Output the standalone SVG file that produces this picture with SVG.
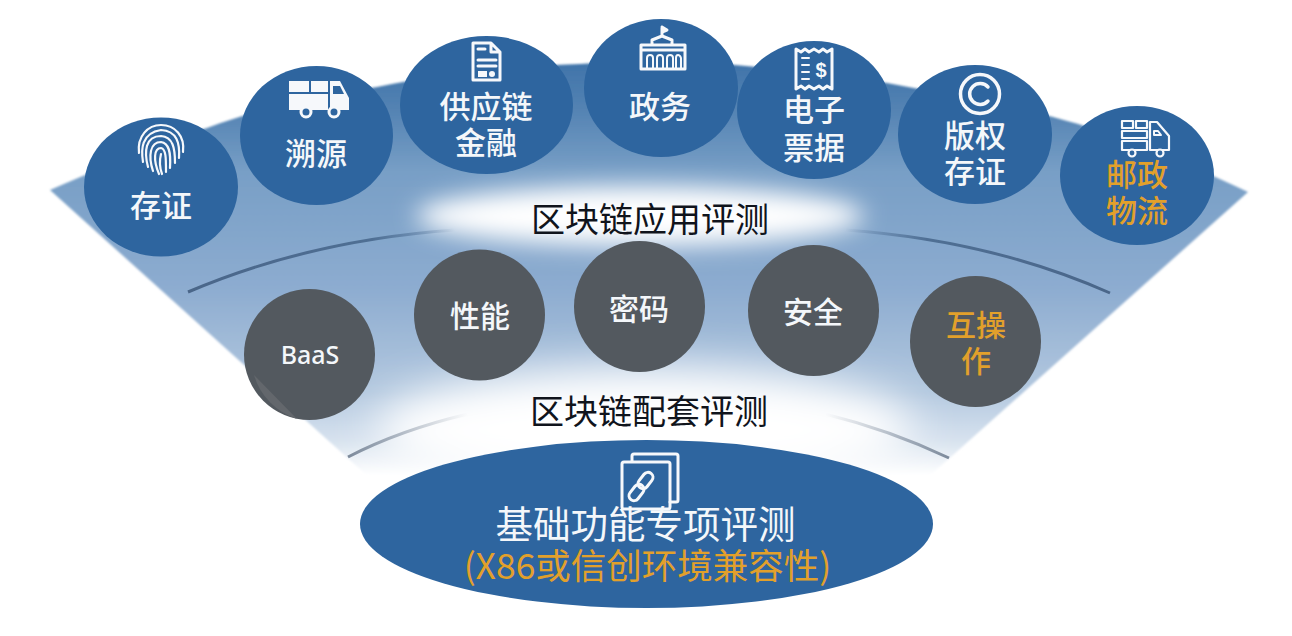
<svg xmlns="http://www.w3.org/2000/svg" width="1292" height="636" viewBox="0 0 1292 636">
<defs>
<linearGradient id="fan" gradientUnits="userSpaceOnUse" x1="0" y1="60" x2="0" y2="475">
<stop offset="0" stop-color="#3f73a9"/><stop offset="0.12" stop-color="#5483b3"/><stop offset="0.27" stop-color="#789fc6"/><stop offset="0.55" stop-color="#8dacd0"/><stop offset="0.8" stop-color="#b3c8df"/><stop offset="0.92" stop-color="#d8e3ef"/><stop offset="1" stop-color="#fff"/>
</linearGradient>
<filter id="b0" x="-10%" y="-10%" width="120%" height="120%"><feGaussianBlur stdDeviation="1.2"/></filter>
<filter id="b1" x="-30%" y="-100%" width="160%" height="300%"><feGaussianBlur stdDeviation="12"/></filter>
<filter id="b2" x="-30%" y="-100%" width="160%" height="300%"><feGaussianBlur stdDeviation="22"/></filter>
<linearGradient id="al" gradientUnits="userSpaceOnUse" x1="188" y1="292" x2="455" y2="230"><stop offset="0" stop-color="#4a6689"/><stop offset="0.7" stop-color="#4f6f94"/><stop offset="1" stop-color="#4f6f94" stop-opacity="0"/></linearGradient>
<linearGradient id="ar" gradientUnits="userSpaceOnUse" x1="1110" y1="293" x2="845" y2="230"><stop offset="0" stop-color="#4a6689"/><stop offset="0.7" stop-color="#4f6f94"/><stop offset="1" stop-color="#4f6f94" stop-opacity="0"/></linearGradient>
<linearGradient id="bl" gradientUnits="userSpaceOnUse" x1="348" y1="457" x2="468" y2="415"><stop offset="0" stop-color="#7d8a9b"/><stop offset="1" stop-color="#7d8a9b" stop-opacity="0"/></linearGradient>
<linearGradient id="br" gradientUnits="userSpaceOnUse" x1="949" y1="458" x2="825" y2="415"><stop offset="0" stop-color="#7d8a9b"/><stop offset="1" stop-color="#7d8a9b" stop-opacity="0"/></linearGradient>
</defs>
<style>
text{font-family:"Noto Sans CJK SC","Liberation Sans",sans-serif;text-anchor:middle}
.b{fill:#2e659f}.g{fill:#53595f}
.t{font-size:31px;fill:#f4f7fa;font-weight:500}
.h{font-size:34px;fill:#10141c}
.i{fill:none;stroke:#f6f8fb;stroke-width:3;stroke-linecap:round;stroke-linejoin:round}
.f{fill:#f6f8fb}
</style>
<rect width="1292" height="636" fill="#fff"/>
<g id="background">
<path filter="url(#b0)" d="M50 190C120 160 165 140 207 128C260 108 320 96 377 87C440 74 510 66 580 64C640 60 690 60 735 65C790 70 840 75 887 83C950 95 1000 103 1053 117C1120 135 1170 155 1248 192L925 480H372Z" fill="url(#fan)"/>
<ellipse cx="645" cy="430" rx="270" ry="62" fill="#fff" filter="url(#b2)"/>
<ellipse cx="640" cy="216" rx="224" ry="30" fill="#fff" filter="url(#b1)"/>
</g>
<g id="connectors" fill="none">
<path d="M188 292Q310 240 455 230" stroke="url(#al)" stroke-width="3"/>
<path d="M1110 293Q990 240 845 230" stroke="url(#ar)" stroke-width="3"/>
<path d="M348 457Q400 430 468 414" stroke="url(#bl)" stroke-width="3"/>
<path d="M949 458Q890 430 825 414" stroke="url(#br)" stroke-width="3"/>
</g>
<g id="label-app"><text class="h" x="650" y="232">区块链应用评测</text></g>
<g id="label-support"><text class="h" x="649" y="424">区块链配套评测</text></g>

<g id="n-cunzheng"><ellipse class="b" cx="161" cy="187" rx="77" ry="69.5"/>
<g class="i" style="stroke-width:2.2">
<path d="M139 153C137 136 148 125 161 125C175 125 185 136 183 152"/>
<path d="M143 162C141 150 141 133 161 130C177 131 180 143 179 158"/>
<path d="M148 167C144 152 145 136 161 136C173 137 175 148 175 163"/>
<path d="M153 171C148 156 150 142 161 142C169 143 171 152 170 168"/>
<path d="M159 174C153 160 154 148 161 148C166 149 166 158 166 172"/>
<path d="M162 174C159 166 160 158 161 154"/>
</g>
<text class="t" x="161" y="217">存证</text></g>

<g id="n-suyuan"><ellipse class="b" cx="316.5" cy="135.5" rx="76.5" ry="69.5"/>
<path class="f" d="M289 81h20v11h-20zM311 81h17v11h-17zM289 94h39v16h-39zM330 81h10l9 17v12h-19z"/>
<path fill="#2e659f" d="M333 86h7l4 8h-11z"/>
<circle cx="306" cy="112" r="5" fill="#2e659f" stroke="#f6f8fb" stroke-width="3"/><circle cx="334" cy="112" r="5" fill="#2e659f" stroke="#f6f8fb" stroke-width="3"/>
<text class="t" x="316" y="165">溯源</text></g>

<g id="n-gongyinglian"><ellipse class="b" cx="486.5" cy="105" rx="86.5" ry="69"/>
<path class="i" d="M473 43h18l9 9v28h-27zM491 43v9h9M478 49h7M478 60h18M478 66h18"/>
<path class="f" d="M478 71h9v6h-9z"/><circle class="f" cx="492" cy="74" r="3"/>
<text class="t" x="486" y="118">供应链</text><text class="t" x="486" y="154">金融</text></g>

<g id="n-zhengwu"><ellipse class="b" cx="661" cy="88" rx="77" ry="69"/>
<path class="i" d="M662 27v9M662 27l5 3-5 2M652 45v-5l10-4 10 4v5M641 45h44v24h-44zM641 50h44"/>
<path class="i" style="stroke-width:2" d="M647 68v-10q0-3 3-3t3 3v10M657 68v-10q0-3 3-3t3 3v10M667 68v-10q0-3 3-3t3 3v10M676 68v-10q0-3 2-3t3 3v10"/>
<text class="t" x="660" y="118">政务</text></g>

<g id="n-dianzi"><ellipse class="b" cx="814" cy="110" rx="77" ry="69"/>
<path class="i" d="M796 49l5 3 4-3 4 3 5-3 5 3 4-3 4 3 5-3v40l-5-3-4 3-4-3-5 3-5-3-4 3-4-3-5 3z"/>
<path class="i" style="stroke-width:2" d="M802 58h7M802 65h7M802 72h7M802 79h7"/>
<text x="821" y="77" font-size="20" fill="#f6f8fb" style="font-family:'Liberation Sans',sans-serif;font-weight:700">$</text>
<text class="t" x="814" y="121">电子</text><text class="t" x="814" y="159">票据</text></g>

<g id="n-banquan"><ellipse class="b" cx="975" cy="134.5" rx="77" ry="69.5"/>
<circle class="i" cx="980" cy="94" r="19.5" style="stroke-width:3.5"/>
<path class="i" d="M988 87a10.500 10.500 0 1 0 0 14" style="stroke-width:3.500"/>
<text class="t" x="975" y="147">版权</text><text class="t" x="975" y="183">存证</text></g>

<g id="n-youzheng"><ellipse class="b" cx="1137" cy="175.5" rx="77" ry="69.5"/>
<path class="i" style="stroke-width:2.2" d="M1122 121h11v7h-11zM1136 121h11v7h-11zM1122 131h25v7h-25zM1122 141h25v9h-25zM1150 122h7l12 14v14h-19z"/>
<path class="i" style="stroke-width:2" d="M1154 131h4l3 4h-7z"/>
<circle cx="1132" cy="153" r="3.500" fill="#2e659f" stroke="#f6f8fb" stroke-width="2.200"/><circle cx="1160" cy="153" r="3.500" fill="#2e659f" stroke="#f6f8fb" stroke-width="2.200"/>
<text class="t" x="1137" y="186" style="fill:#e2a02b">邮政</text><text class="t" x="1137" y="222" style="fill:#e2a02b">物流</text></g>

<g id="n-baas"><circle class="g" cx="309.500" cy="354.500" r="65.500"/><path d="M254 375L297 419A65.500 65.500 0 0 1 254 375Z" fill="#63676c"/><text x="310" y="364" font-size="25" fill="#f4f7fa" style="font-family:'Noto Sans','Liberation Sans',sans-serif;font-weight:500">BaaS</text></g>
<g id="n-xingneng"><circle class="g" cx="479.500" cy="315" r="65.500"/><text class="t" x="480" y="327" style="font-size:30px">性能</text></g>
<g id="n-mima"><circle class="g" cx="639.500" cy="306.500" r="65.500"/><text class="t" x="639" y="320" style="font-size:30px">密码</text></g>
<g id="n-anquan"><circle class="g" cx="813.500" cy="310.500" r="65.500"/><text class="t" x="813" y="323" style="font-size:30px">安全</text></g>
<g id="n-hucaozuo"><circle class="g" cx="975.500" cy="341.500" r="65.500"/><text class="t" x="976" y="336" style="font-size:30px;fill:#e2a02b">互操</text><text class="t" x="976" y="372" style="font-size:30px;fill:#e2a02b">作</text></g>

<g id="n-base"><ellipse class="b" cx="646.500" cy="524" rx="286.500" ry="84"/>
<path class="i" d="M632 461v-5q0-2 2-2h42q2 0 2 2v44q0 2-2 2h-6"/>
<rect class="i" x="622" y="462" width="48" height="47" rx="2"/>
<g class="i" style="stroke-width:3">
<rect x="-5" y="-9" width="10" height="18" rx="5" transform="translate(645.500 480.500) rotate(38)"/>
<rect x="-5" y="-9" width="10" height="18" rx="5" transform="translate(636.500 492.500) rotate(38)"/>
</g>
<text x="645.500" y="538" font-size="37.500" fill="#f4f7fa">基础功能专项评测</text>
<text x="647.500" y="579" font-size="35.500" fill="#e2a02b">(X86或信创环境兼容性)</text></g>
</svg>
